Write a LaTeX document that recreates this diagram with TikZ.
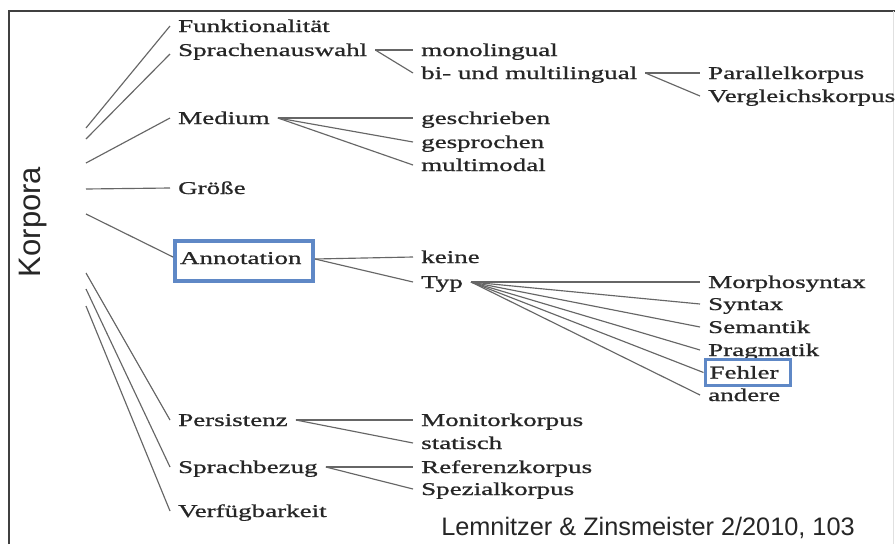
\documentclass[tikz,border=0pt]{standalone}
\usepackage{fontspec}
\newfontfamily\figfont[FakeStretch=1.5,FakeBold=0.9]{Liberation Serif}
\newfontfamily\slidefont{Liberation Sans}
\definecolor{boxblue}{HTML}{5F88C6}
\definecolor{txt}{HTML}{262626}
\begin{document}
\begin{tikzpicture}[x=1pt,y=-1pt,
  lbl/.style={font=\figfont\fontsize{18}{20}\selectfont, text=txt, inner xsep=8pt, inner ysep=0pt, text height=12pt, text depth=0pt, anchor=west},
  conn/.style={draw=black!60, line width=1.15pt},
  framestyle/.style={draw=black!75, line width=1.3pt}
]
\useasboundingbox (0,0) rectangle (895,544);
\fill[white] (0,0) rectangle (895,544);
% frame
\draw[framestyle] (9,544) -- (9,11) -- (895,11);
\draw[draw=black!12, line width=1pt] (893,11) -- (893,544);

% labels
\node[lbl] (funk) at (170,26) {Funktionalität};
\node[lbl] (sprach) at (170,50) {Sprachenauswahl};
\node[lbl] (mono) at (413,50) {monolingual};
\node[lbl] (bi) at (413,73) {bi- und multilingual};
\node[lbl] (para) at (700,73) {Parallelkorpus};
\node[lbl] (vergl) at (700,96) {Vergleichskorpus};
\node[lbl] (medium) at (170,118) {Medium};
\node[lbl] (geschr) at (413,118) {geschrieben};
\node[lbl] (gespr) at (413,142) {gesprochen};
\node[lbl] (multi) at (413,165) {multimodal};
\node[lbl] (groesse) at (170,188) {Größe};
\node[lbl, draw=boxblue, line width=4pt, inner xsep=5pt, text width=128pt, align=left, minimum height=40pt, text depth=6pt] (annot) at (173,261) {Annotation};
\node[lbl] (keine) at (413,257) {keine};
\node[lbl] (typ) at (413,282) {Typ};
\node[lbl] (morph) at (700,282) {Morphosyntax};
\node[lbl] (syntax) at (700,304) {Syntax};
\node[lbl] (sem) at (700,327) {Semantik};
\node[lbl] (prag) at (700,350) {Pragmatik};
\node[lbl, draw=boxblue, line width=3pt, inner xsep=4.5pt, text width=76pt, align=left, minimum height=26pt] (fehler) at (703.5,372.5) {Fehler};
\node[lbl] (andere) at (700,395) {andere};
\node[lbl] (pers) at (170,420) {Persistenz};
\node[lbl] (monitor) at (413,420) {Monitorkorpus};
\node[lbl] (stat) at (413,443) {statisch};
\node[lbl] (sbez) at (170,467) {Sprachbezug};
\node[lbl] (ref) at (413,467) {Referenzkorpus};
\node[lbl] (spez) at (413,489) {Spezialkorpus};
\node[lbl] (verf) at (170,511) {Verfügbarkeit};

% root label and source
\node[font=\slidefont\fontsize{31}{34}\selectfont, text=black!85, rotate=90, inner sep=0pt] (korpora) at (33,222) {Korpora};
\node[font=\slidefont\fontsize{25.3}{28}\selectfont, text=black!85, inner sep=0pt] (src) at (648,528) {Lemnitzer \& Zinsmeister 2/2010, 103};

% root stubs
\coordinate (r1) at (86,128);
\coordinate (r2) at (86,139);
\coordinate (r3) at (86,163);
\coordinate (r4) at (86,189);
\coordinate (r5) at (86,214);
\coordinate (r6) at (86,273);
\coordinate (r7) at (86,289);
\coordinate (r8) at (86,306);

\draw[conn] (r1) -- (funk.west);
\draw[conn] (r2) -- ([yshift=-4pt]sprach.west);
\draw[conn] (r3) -- (medium.west);
\draw[conn] (r4) -- (groesse.west);
\draw[conn] (r5) -- ([yshift=4pt]annot.west);
\draw[conn] (r6) -- (pers.west);
\draw[conn] (r7) -- (sbez.west);
\draw[conn] (r8) -- (verf.west);

% second level
\draw[conn] (sprach.east) -- (mono.west);
\draw[conn] (sprach.east) -- (bi.west);
\draw[conn] (bi.east) -- (para.west);
\draw[conn] (bi.east) -- (vergl.west);
\draw[conn] (medium.east) -- (geschr.west);
\draw[conn] (medium.east) -- (gespr.west);
\draw[conn] (medium.east) -- (multi.west);
\draw[conn] ([yshift=2pt]annot.east) -- (keine.west);
\draw[conn] ([yshift=2pt]annot.east) -- (typ.west);
\draw[conn] (typ.east) -- (morph.west);
\draw[conn] (typ.east) -- (syntax.west);
\draw[conn] (typ.east) -- (sem.west);
\draw[conn] (typ.east) -- (prag.west);
\draw[conn] (typ.east) -- (fehler.west);
\draw[conn] (typ.east) -- (andere.west);
\draw[conn] (pers.east) -- (monitor.west);
\draw[conn] (pers.east) -- (stat.west);
\draw[conn] (sbez.east) -- (ref.west);
\draw[conn] (sbez.east) -- (spez.west);
\end{tikzpicture}
\end{document}
